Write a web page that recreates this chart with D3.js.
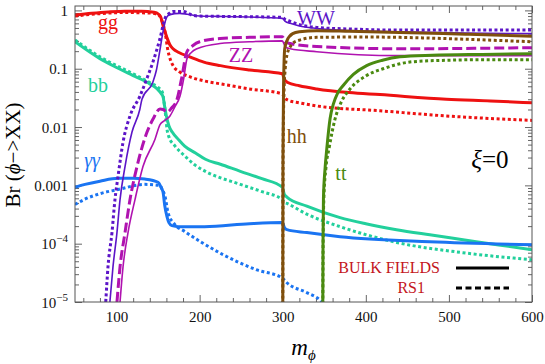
<!DOCTYPE html>
<html>
<head>
<meta charset="utf-8">
<script src="https://cdn.jsdelivr.net/npm/d3@7"></script>
<style>
  body { margin: 0; background: #fff; }
  svg { display: block; }
  text { font-family: "Liberation Serif", "DejaVu Serif", serif; }
</style>
</head>
<body>
<div id="chart"></div>
<script>
// --- data: [m_phi, Br] ---
var ggBulk = [[50,0.83],[70,0.89],[90,0.94],[110,0.97],[130,0.97],[145,0.93],[149,0.89],[153,0.78],[156,0.55],[160.7,0.34],[164,0.26],[168,0.22],[175,0.19],[188,0.16],[205,0.13],[225,0.113],[260,0.095],[299.5,0.082],[302,0.066],[306,0.058],[320,0.051],[341,0.045],[380,0.039],[417,0.036],[497,0.030],[550,0.028],[600,0.026]];
var ggRS1  = [[50,0.80],[80,0.88],[110,0.92],[140,0.90],[150,0.85],[154,0.70],[158.3,0.43],[162,0.20],[165,0.14],[168,0.113],[175,0.09],[188,0.073],[205,0.062],[225,0.055],[260,0.045],[299.5,0.037],[302,0.032],[306,0.029],[320,0.026],[341,0.023],[417,0.019],[497,0.0155],[550,0.014],[600,0.013]];

var bbBulk = [[50,0.29],[80,0.149],[100,0.105],[120,0.076],[140,0.055],[149,0.045],[154,0.037],[156,0.033],[158,0.022],[160,0.0155],[163,0.0105],[167,0.0082],[175,0.006],[182,0.0047],[195,0.0036],[207,0.0028],[225,0.0023],[249,0.00174],[275,0.0013],[299.5,0.00093],[302,0.0007],[305,0.00063],[329,0.00044],[369,0.00028],[400,0.00022],[437,0.000174],[477,0.000142],[517,0.000117],[560,0.000095],[600,0.000079]];
var bbRS1  = [[50,0.31],[80,0.16],[120,0.082],[140,0.058],[149,0.049],[155,0.04],[157,0.028],[159,0.016],[160.7,0.0093],[163,0.0068],[170,0.0048],[182,0.0032],[195,0.0022],[207,0.00174],[249,0.00104],[275,0.00078],[299.5,0.00057],[302,0.00051],[305,0.00049],[329,0.00032],[369,0.000196],[437,0.000105],[517,0.00007],[600,0.000053]];

var aaBulk = [[50,0.00093],[62,0.00104],[80,0.00118],[102,0.00132],[120,0.00132],[134,0.00128],[150,0.00113],[154,0.0009],[156,0.00076],[158,0.00045],[160.7,0.00029],[163,0.00023],[166.7,0.000204],[175,0.000196],[206,0.000196],[260,0.00022],[299.5,0.00023],[302,0.00019],[305,0.000174],[329,0.000155],[369,0.000132],[477,0.000108],[600,0.000096]];
var aaRS1  = [[50,0.00047],[62,0.00058],[80,0.00072],[102,0.00085],[134,0.00104],[152,0.001],[155,0.00085],[158.3,0.00065],[162,0.00034],[170,0.000214],[182,0.000162],[203,0.000104],[228,0.000065],[269,0.0000355],[299.5,0.0000258],[305,0.0000214],[329,0.0000145],[345,0.0000108],[352,0.0000085]];

var wwBulk = [[92,0.00001],[95.7,0.00004],[100.5,0.000155],[104.2,0.00057],[110.2,0.0021],[118.6,0.0082],[128,0.02],[130.6,0.03],[143.9,0.06],[148,0.095],[152,0.2],[155.9,0.43],[159,0.68],[162,0.82],[170,0.88],[176,0.89],[185,0.86],[200,0.80],[221,0.79],[260,0.77],[299.5,0.73],[303,0.65],[309,0.60],[320,0.54],[341,0.49],[380,0.45],[441,0.43],[520,0.41],[600,0.40]];
var wwRS1  = [[87,0.00001],[89.7,0.00004],[94.5,0.000155],[98.1,0.00057],[101.8,0.00143],[107.8,0.0055],[116.2,0.0155],[128.2,0.034],[136,0.065],[143.9,0.132],[152.3,0.33],[158.3,0.73],[163,0.88],[168,0.96],[180,0.96],[192,0.82],[200,0.80],[224.5,0.79],[260,0.78],[299.5,0.76],[303,0.70],[309,0.65],[320,0.57],[341,0.51],[380,0.48],[441,0.46],[600,0.46]];

var zzBulk = [[104.2,0.00001],[107.8,0.00004],[113.8,0.000155],[122.2,0.00057],[131.8,0.0021],[146.3,0.0062],[152.3,0.011],[158,0.013],[164.3,0.0155],[170,0.022],[176.4,0.034],[181,0.07],[184.8,0.149],[190,0.19],[196.8,0.22],[224.5,0.27],[260,0.29],[299.5,0.30],[303,0.24],[309,0.22],[341,0.196],[441,0.168],[600,0.168]];
var zzRS1  = [[100.5,0.00001],[104.2,0.00004],[110.2,0.000155],[116.2,0.00057],[124.6,0.0021],[136.7,0.0082],[143.9,0.0137],[152.3,0.0204],[156,0.02],[160.7,0.018],[166,0.021],[172.8,0.03],[178,0.065],[184.8,0.196],[192,0.25],[200,0.29],[224.5,0.33],[260,0.345],[299.5,0.355],[303,0.29],[309,0.27],[341,0.24],[441,0.22],[600,0.23]];

var hhBulk = [[300,0.000001],[300.3,0.003],[301,0.05],[302.4,0.22],[305,0.30],[312,0.40],[320,0.43],[341,0.45],[380,0.44],[441,0.42],[520,0.39],[600,0.36]];
var hhRS1  = [[300,0.000001],[300.4,0.003],[301.5,0.04],[303,0.10],[305,0.17],[310,0.25],[317,0.30],[341,0.345],[400,0.35],[441,0.345],[520,0.32],[600,0.29]];

var ttBulk = [[348,0.000001],[348.5,0.0001],[349,0.0006],[351,0.002],[353,0.0042],[357,0.014],[361,0.025],[366,0.038],[372.5,0.051],[385,0.08],[401,0.113],[420,0.14],[441,0.16],[480,0.17],[540,0.176],[600,0.18]];
var ttRS1  = [[348,0.000001],[348.6,0.0001],[349.5,0.0006],[352,0.002],[356,0.0045],[363,0.0138],[370,0.026],[381,0.045],[400,0.075],[420.7,0.10],[457,0.132],[500,0.14],[537,0.143],[600,0.143]];

var xTicks = [100, 200, 300, 400, 500, 600];
var yTicks = [1e-5, 1e-4, 1e-3, 1e-2, 0.1, 1];
var yTickLabels = [["10","\u22125"], ["10","\u22124"], ["0.001",""], ["0.01",""], ["0.1",""], ["1",""]];

// channel labels: [m_phi, Br] of label baseline
var channelNames = ["gg", "bb", "\u03b3\u03b3", "WW", "ZZ", "hh", "tt"];
var channelPos = [[89.7,0.48],[77.7,0.040],[70.5,0.00207],[340,0.564],[249.8,0.131],[317,0.00533],[370,0.00124]];

var C = { gg:"#ee1111", bb:"#22d09c", aa:"#1a74f2", ww:"#5c14c8", zz:"#b012b0", hh:"#7f4f0c", tt:"#4a8a10" };
var channelColors = [C.gg, C.bb, C.aa, C.ww, C.zz, C.hh, C.tt];

var width = 545, height = 364;
var margin = { top: 6, right: 13, bottom: 62, left: 75 };

var svg = d3.select("#chart").append("svg").attr("width", width).attr("height", height);

var x = d3.scaleLinear().domain([50, 600]).range([margin.left, width - margin.right]);
var y = d3.scaleLog().domain([1e-5, 1.19]).range([height - margin.bottom, margin.top]);

svg.append("clipPath").attr("id", "plotclip")
  .append("rect")
  .attr("x", x(50)).attr("y", y(1.19))
  .attr("width", x(600) - x(50)).attr("height", y(1e-5) - y(1.19));

// minor ticks
var xMinor = d3.range(60, 600, 20).filter(function(d) { return d % 100 !== 0; });
var yMinor = [];
[1e-5, 1e-4, 1e-3, 1e-2, 0.1].forEach(function(dec) {
  for (var k = 2; k <= 9; k++) yMinor.push(dec * k);
});

function noDomain(g) { g.select(".domain").remove(); }
var tickColor = "#666";

// bottom axis
svg.append("g")
  .attr("transform", "translate(0," + y(1e-5) + ")")
  .call(d3.axisBottom(x).tickValues(xTicks).tickSize(-7).tickPadding(9).tickFormat(d3.format("d")))
  .call(noDomain)
  .call(function(g) {
    g.selectAll("line").attr("stroke", tickColor);
    g.selectAll("text").attr("font-size", 15).attr("fill", "#111").attr("font-family", "Liberation Serif");
  });
svg.append("g")
  .attr("transform", "translate(0," + y(1e-5) + ")")
  .call(d3.axisBottom(x).tickValues(xMinor).tickSize(-4).tickFormat(""))
  .call(noDomain)
  .call(function(g) { g.selectAll("line").attr("stroke", tickColor); });

// top axis
svg.append("g")
  .attr("transform", "translate(0," + y(1.19) + ")")
  .call(d3.axisTop(x).tickValues(xTicks).tickSize(-7).tickFormat(""))
  .call(noDomain)
  .call(function(g) { g.selectAll("line").attr("stroke", tickColor); });
svg.append("g")
  .attr("transform", "translate(0," + y(1.19) + ")")
  .call(d3.axisTop(x).tickValues(xMinor).tickSize(-4).tickFormat(""))
  .call(noDomain)
  .call(function(g) { g.selectAll("line").attr("stroke", tickColor); });

// left axis
svg.append("g")
  .attr("transform", "translate(" + x(50) + ",0)")
  .call(d3.axisLeft(y).tickValues(yTicks).tickSize(-7).tickPadding(7).tickFormat(""))
  .call(noDomain)
  .call(function(g) {
    g.selectAll("line").attr("stroke", tickColor);
    g.selectAll(".tick text").each(function(d, i) {
      var t = d3.select(this)
        .attr("font-size", 15).attr("fill", "#111").attr("font-family", "Liberation Serif")
        .attr("dy", "0.34em");
      var lab = yTickLabels[i];
      t.append("tspan").text(lab[0]);
      if (lab[1]) t.append("tspan").attr("dy", -7).attr("font-size", 11).text(lab[1]);
    });
  });
svg.append("g")
  .attr("transform", "translate(" + x(50) + ",0)")
  .call(d3.axisLeft(y).tickValues(yMinor).tickSize(-4).tickFormat(""))
  .call(noDomain)
  .call(function(g) { g.selectAll("line").attr("stroke", tickColor); });

// right axis
svg.append("g")
  .attr("transform", "translate(" + x(600) + ",0)")
  .call(d3.axisRight(y).tickValues(yTicks).tickSize(-7).tickFormat(""))
  .call(noDomain)
  .call(function(g) { g.selectAll("line").attr("stroke", tickColor); });
svg.append("g")
  .attr("transform", "translate(" + x(600) + ",0)")
  .call(d3.axisRight(y).tickValues(yMinor).tickSize(-4).tickFormat(""))
  .call(noDomain)
  .call(function(g) { g.selectAll("line").attr("stroke", tickColor); });

// curves
var line = d3.line()
  .x(function(d) { return x(d[0]); })
  .y(function(d) { return y(d[1]); })
  .curve(d3.curveMonotoneX);

var dotted = "3,2.6";
var curves = [
  { data: ggRS1,  color: C.gg, w: 3,   dash: dotted },
  { data: ggBulk, color: C.gg, w: 3,   dash: null },
  { data: bbRS1,  color: C.bb, w: 3,   dash: dotted },
  { data: bbBulk, color: C.bb, w: 3,   dash: null },
  { data: aaRS1,  color: C.aa, w: 3,   dash: dotted },
  { data: aaBulk, color: C.aa, w: 3,   dash: null },
  { data: wwRS1,  color: C.ww, w: 3,   dash: dotted },
  { data: wwBulk, color: C.ww, w: 1.6, dash: null },
  { data: zzRS1,  color: C.zz, w: 3,   dash: "10,4" },
  { data: zzBulk, color: C.zz, w: 1.6, dash: null },
  { data: hhRS1,  color: C.hh, w: 3,   dash: dotted },
  { data: hhBulk, color: C.hh, w: 3,   dash: null },
  { data: ttRS1,  color: C.tt, w: 3,   dash: dotted },
  { data: ttBulk, color: C.tt, w: 3,   dash: null }
];

svg.append("g").attr("clip-path", "url(#plotclip)")
  .selectAll("path")
  .data(curves)
  .enter()
  .append("path")
  .attr("d", function(d) { return line(d.data); })
  .attr("fill", "none")
  .attr("stroke", function(d) { return d.color; })
  .attr("stroke-width", function(d) { return d.w; })
  .attr("stroke-dasharray", function(d) { return d.dash; });

// frame
svg.append("rect")
  .attr("x", x(50)).attr("y", y(1.19))
  .attr("width", x(600) - x(50)).attr("height", y(1e-5) - y(1.19))
  .attr("fill", "none").attr("stroke", "#555").attr("stroke-width", 1);

// channel labels
svg.append("g")
  .selectAll("text")
  .data(channelNames)
  .enter()
  .append("text")
  .attr("x", function(d, i) { return x(channelPos[i][0]); })
  .attr("y", function(d, i) { return y(channelPos[i][1]); })
  .attr("text-anchor", "middle")
  .attr("font-size", 20)
  .attr("font-style", function(d) { return d === "\u03b3\u03b3" ? "italic" : "normal"; })
  .attr("fill", function(d, i) { return channelColors[i]; })
  .text(function(d) { return d; });

// xi = 0
var xi = svg.append("text")
  .attr("x", x(549.4)).attr("y", y(0.00199))
  .attr("text-anchor", "middle")
  .attr("font-size", 25)
  .attr("fill", "#000");
xi.append("tspan").attr("font-style", "italic").text("\u03be");
xi.append("tspan").text("=0");

// legend
var legend = svg.append("g");
legend.append("text").attr("x", 440).attr("y", 273).attr("text-anchor", "end")
  .attr("font-size", 16).attr("fill", "#c4161c").text("BULK FIELDS");
legend.append("text").attr("x", 425).attr("y", 293).attr("text-anchor", "end")
  .attr("font-size", 16).attr("fill", "#c4161c").text("RS1");
legend.append("line").attr("x1", 456).attr("x2", 509).attr("y1", 268).attr("y2", 268)
  .attr("stroke", "#000").attr("stroke-width", 3);
legend.append("line").attr("x1", 456).attr("x2", 509).attr("y1", 288).attr("y2", 288)
  .attr("stroke", "#000").attr("stroke-width", 3).attr("stroke-dasharray", "6,3.5");

// axis titles
var ylab = svg.append("text")
  .attr("transform", "translate(20,155) rotate(-90)")
  .attr("text-anchor", "middle")
  .attr("font-size", 21)
  .attr("fill", "#000");
ylab.append("tspan").text("Br (");
ylab.append("tspan").attr("font-style", "italic").text("\u03d5");
ylab.append("tspan").text("\u2212>XX)");

var xlab = svg.append("text")
  .attr("x", (x(50) + x(600)) / 2).attr("y", 355)
  .attr("text-anchor", "middle")
  .attr("font-size", 23)
  .attr("font-style", "italic")
  .attr("fill", "#000");
xlab.append("tspan").text("m");
xlab.append("tspan").attr("font-size", 15).attr("dy", 5).text("\u03d5");
</script>
</body>
</html>
